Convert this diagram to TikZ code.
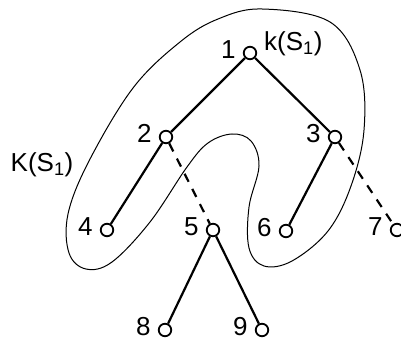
\documentclass[tikz,border=0pt]{standalone}
\usepackage{fontspec}
\setmainfont{Liberation Sans}
\usepackage{tikz}
\usetikzlibrary{positioning}
\tikzset{
    vertex/.style={circle, draw=black, line width=1.8pt, fill=white, inner sep=0pt, minimum size=12.5pt},
    lbl/.style={font=\fontsize{26}{28}\selectfont, inner sep=0pt},
    tag/.style={lbl, label distance=7pt, yshift=3.5pt},
    edge/.style={line width=2.2pt},
    dashededge/.style={line width=2.2pt, dash pattern=on 9pt off 8pt},
    region/.style={line width=1pt}
}

\begin{document}
\begin{tikzpicture}[x=1pt, y=-1pt]
    \useasboundingbox (0,0) rectangle (401,339);

    % Region K(S_1) around the subtree
    \draw[region] plot[smooth cycle, tension=0.6] coordinates {
        (262,9) (330,22) (360,70) (364,130) (351,186) (328,231) (292,261) (264,266)
        (249,248) (249,207) (259,166) (251,141) (232,134) (208,143) (187,167)
        (150,222) (112,262) (86,269) (69,253) (68,214) (89,161) (133,88)
        (180,42) (218,19)};

    % Tree nodes
    \node[vertex, label={[tag]left:1}] (n1) at (250,53) {};
    \node[vertex, label={[tag]left:2}] (n2) at (166,137) {};
    \node[vertex, label={[tag]left:3}] (n3) at (335,137) {};
    \node[vertex, label={[tag]left:4}] (n4) at (107,230) {};
    \node[vertex, label={[tag]left:5}] (n5) at (213,230) {};
    \node[vertex, label={[tag]left:6}] (n6) at (286,231) {};
    \node[vertex, label={[tag]left:7}] (n7) at (397,230) {};
    \node[vertex, label={[tag]left:8}] (n8) at (165,330) {};
    \node[vertex, label={[tag]left:9}] (n9) at (262,330) {};

    % Set labels
    \node[lbl, anchor=south west] (root) at (264,56) {k(S\textsubscript{1})};
    \node[lbl] (region) at (42,165) {K(S\textsubscript{1})};

    % Edges
    \draw[edge] (n1) -- (n2);
    \draw[edge] (n1) -- (n3);
    \draw[edge] (n2) -- (n4);
    \draw[dashededge] (n2) -- (n5);
    \draw[edge] (n3) -- (n6);
    \draw[dashededge] (n3) -- (n7);
    \draw[edge] (n5) -- (n8);
    \draw[edge] (n5) -- (n9);

\end{tikzpicture}
\end{document}
